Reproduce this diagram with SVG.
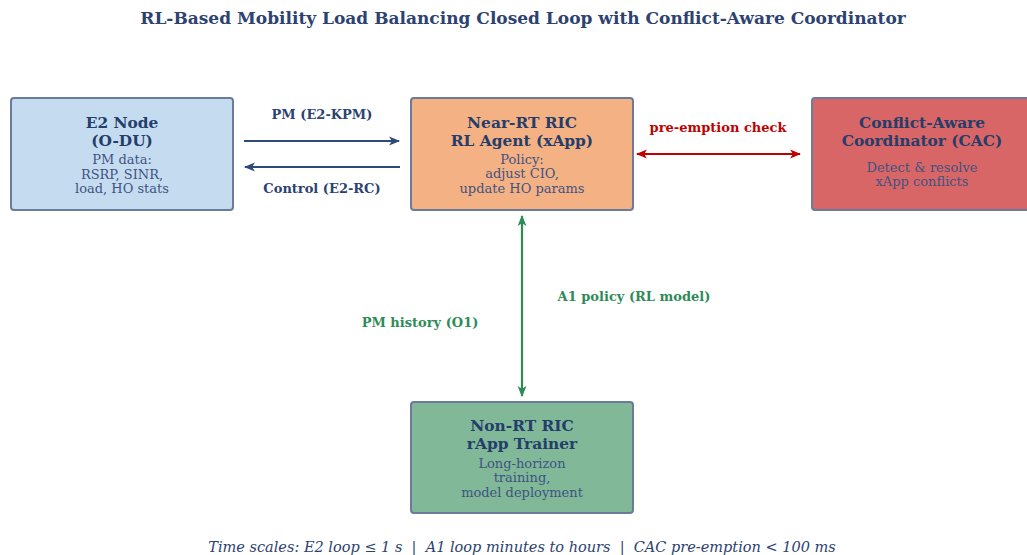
<svg xmlns="http://www.w3.org/2000/svg" width="1027" height="555" viewBox="0 0 1027 555">
  <style>
    text { font-family: "DejaVu Serif", "Liberation Serif", serif; text-anchor: middle; }
    .title { font-size: 17px; font-weight: bold; fill: #2c4270; }
    .head { font-size: 15.4px; font-weight: bold; fill: #243d6a; }
    .sub { font-size: 13px; fill: #3f5382; }
    .box { stroke: #6b7b9c; stroke-width: 2; }
    .lbl { font-size: 13px; font-weight: bold; }
    .navy { fill: #2c4270; }
    .red { fill: #c00000; }
    .green { fill: #2e8b57; }
    .foot { font-size: 14.5px; font-style: italic; fill: #2c4270; }
  </style>
  <defs>
    <marker id="hNavy" viewBox="0 0 10 10" refX="9" refY="5" markerWidth="5" markerHeight="5" orient="auto-start-reverse" markerUnits="strokeWidth">
      <path d="M0,1 L10,5 L0,9 L2.5,5 Z" fill="#2f4a7a"/>
    </marker>
    <marker id="hRed" viewBox="0 0 10 10" refX="9" refY="5" markerWidth="5" markerHeight="5" orient="auto-start-reverse" markerUnits="strokeWidth">
      <path d="M0,1 L10,5 L0,9 L2.5,5 Z" fill="#c00000"/>
    </marker>
    <marker id="hGreen" viewBox="0 0 10 10" refX="9" refY="5" markerWidth="5" markerHeight="5" orient="auto-start-reverse" markerUnits="strokeWidth">
      <path d="M0,1 L10,5 L0,9 L2.5,5 Z" fill="#2e8b57"/>
    </marker>
  </defs>

  <rect width="1027" height="555" fill="#ffffff"/>

  <text class="title" x="523" y="24">RL-Based Mobility Load Balancing Closed Loop with Conflict-Aware Coordinator</text>

  <!-- connectors -->
  <g id="connectors" fill="none" stroke-width="2.2">
    <line x1="244" y1="141" x2="399" y2="141" stroke="#2f4a7a" marker-end="url(#hNavy)"/>
    <line x1="400" y1="167" x2="245" y2="167" stroke="#2f4a7a" marker-end="url(#hNavy)"/>
    <line x1="637" y1="154" x2="800" y2="154" stroke="#c00000" marker-start="url(#hRed)" marker-end="url(#hRed)"/>
    <line x1="522" y1="216" x2="522" y2="396" stroke="#2e8b57" marker-start="url(#hGreen)" marker-end="url(#hGreen)"/>
  </g>

  <g id="connector-labels">
    <text class="lbl navy" x="322" y="119">PM (E2-KPM)</text>
    <text class="lbl navy" x="322" y="193">Control (E2-RC)</text>
    <text class="lbl red" x="718" y="132">pre-emption check</text>
    <text class="lbl green" x="634" y="301">A1 policy (RL model)</text>
    <text class="lbl green" x="420" y="327">PM history (O1)</text>
  </g>

  <g id="e2-node">
    <rect class="box" x="11" y="98" width="222" height="112" rx="3" fill="#c5dcf0"/>
    <text class="head" x="122" y="128">E2 Node</text>
    <text class="head" x="122" y="146">(O-DU)</text>
    <text class="sub" x="122" y="164">PM data:</text>
    <text class="sub" x="122" y="179">RSRP, SINR,</text>
    <text class="sub" x="122" y="193">load, HO stats</text>
  </g>

  <g id="near-rt-ric">
    <rect class="box" x="411" y="98" width="222" height="112" rx="3" fill="#f4b183"/>
    <text class="head" x="522" y="128">Near-RT RIC</text>
    <text class="head" x="522" y="146">RL Agent (xApp)</text>
    <text class="sub" x="522" y="164">Policy:</text>
    <text class="sub" x="522" y="178">adjust CIO,</text>
    <text class="sub" x="522" y="193">update HO params</text>
  </g>

  <g id="cac">
    <rect class="box" x="812" y="98" width="222" height="112" rx="3" fill="#d86666"/>
    <text class="head" x="922" y="128">Conflict-Aware</text>
    <text class="head" x="922" y="146">Coordinator (CAC)</text>
    <text class="sub" x="922" y="172">Detect &amp; resolve</text>
    <text class="sub" x="922" y="186">xApp conflicts</text>
  </g>

  <g id="non-rt-ric">
    <rect class="box" x="411" y="402" width="222" height="111" rx="3" fill="#80b898"/>
    <text class="head" x="522" y="431">Non-RT RIC</text>
    <text class="head" x="522" y="449">rApp Trainer</text>
    <text class="sub" x="522" y="468">Long-horizon</text>
    <text class="sub" x="522" y="482">training,</text>
    <text class="sub" x="522" y="497">model deployment</text>
  </g>

  <text class="foot" x="522" y="552" xml:space="preserve">Time scales: E2 loop ≤ 1 s  |  A1 loop minutes to hours  |  CAC pre-emption &lt; 100 ms</text>
</svg>
